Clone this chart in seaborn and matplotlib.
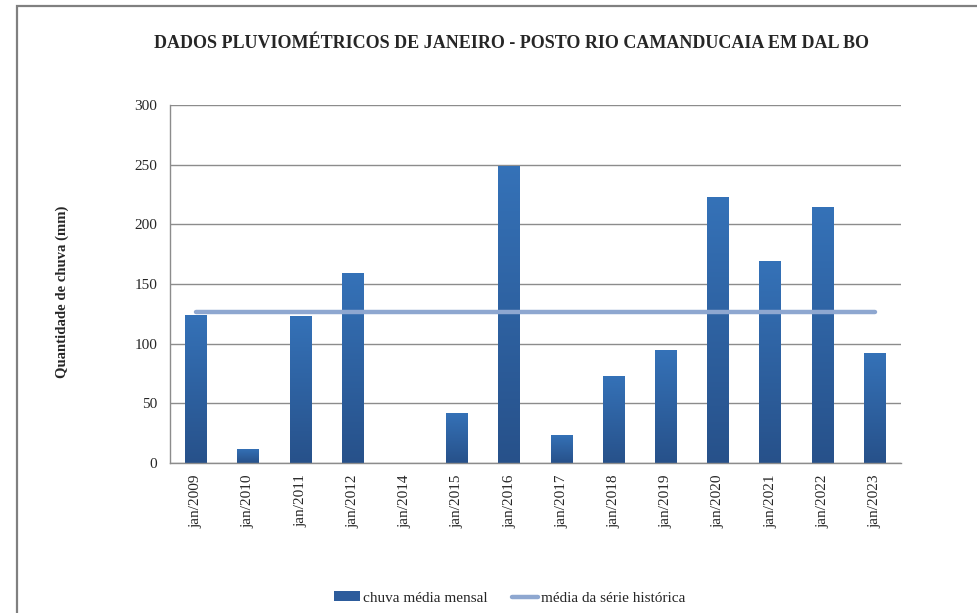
import numpy as np
import pandas as pd
import matplotlib
matplotlib.use("Agg")
import matplotlib.pyplot as plt
import seaborn as sns
from matplotlib.patches import Rectangle
from matplotlib.lines import Line2D
from matplotlib.colors import LinearSegmentedColormap

categories = ["jan/2009", "jan/2010", "jan/2011", "jan/2012", "jan/2014", "jan/2015",
              "jan/2016", "jan/2017", "jan/2018", "jan/2019", "jan/2020", "jan/2021",
              "jan/2022", "jan/2023"]
chuva = [124.2, 12.0, 123.4, 159.4, 0.0, 41.9, 249.0, 23.7, 73.1, 94.9, 223.0, 169.4, 214.6, 92.4]
media_serie = 126.7
yticks = [0, 50, 100, 150, 200, 250, 300]

sns.set_theme(style="white")
plt.rcParams['font.family'] = ['Liberation Serif', 'DejaVu Serif']

df = pd.DataFrame({"mes": categories, "chuva": chuva})

fig = plt.figure(figsize=(9.78, 6.13), dpi=100)
W, H = 978, 613
ax = fig.add_axes([170 / W, 1 - 463 / H, (901 - 170) / W, (463 - 105) / H])

sns.barplot(data=df, x="mes", y="chuva", ax=ax, color="#2F62A3", width=0.42,
            saturation=1, edgecolor="none", zorder=2)

# gradient fill on bars
grad = np.linspace(0, 1, 256).reshape(-1, 1)
cmap = LinearSegmentedColormap.from_list("g", ["#27518A", "#3572B8"])
for p in ax.patches:
    x0, y0 = p.get_x(), p.get_y()
    w, h = p.get_width(), p.get_height()
    if h <= 0:
        continue
    im = ax.imshow(grad, extent=(x0, x0 + w, y0, y0 + h), origin="lower", cmap=cmap,
                   aspect="auto", zorder=2.1)
    im.set_clip_path(p)

ax.set_xlim(-0.5, len(categories) - 0.5)
ax.set_ylim(0, 300)
ax.set_aspect("auto")

# mean line from first to last category
ax.plot([categories[0], categories[-1]], [media_serie, media_serie], color="#8EA7D0",
        lw=3.2, solid_capstyle="round", zorder=3)

ax.set_yticks(yticks)
ax.set_yticklabels([str(v) for v in yticks], fontsize=11)
ax.yaxis.grid(True, color="#8C8C8C", lw=1.0, zorder=0)
ax.set_axisbelow(True)
ax.tick_params(axis="x", rotation=90, labelsize=11, length=0, pad=8)
ax.tick_params(axis="y", length=0, pad=9)
for lab in ax.get_xticklabels():
    lab.set_va("top")
for s in ["top", "right"]:
    ax.spines[s].set_visible(False)
for s in ["left", "bottom"]:
    ax.spines[s].set_color("#8C8C8C")
    ax.spines[s].set_linewidth(1.0)
ax.set_xlabel("")
ax.set_ylabel("")

fig.text(512 / W, 1 - 43 / H, "DADOS PLUVIOMÉTRICOS DE JANEIRO - POSTO RIO CAMANDUCAIA EM DAL BO",
         ha="center", va="center", fontsize=13, fontweight="bold")
fig.text(62 / W, 1 - 292 / H, "Quantidade de chuva (mm)", rotation=90, ha="center",
         va="center", fontsize=10.6, fontweight="bold")

# legend
handles = [Rectangle((0, 0), 1, 1, facecolor="#2D5C9C", edgecolor="none"),
           Line2D([0], [0], color="#8EA7D0", lw=3.2, solid_capstyle="round")]
fig.legend(handles, ["chuva média mensal", "média da série histórica"],
           loc="center", bbox_to_anchor=(510 / W, 1 - 598 / H), ncol=2, frameon=False,
           fontsize=11, handlelength=1.7, handletextpad=0.2, columnspacing=1.6,
           handleheight=0.6)

# outer chart frame
frame = Rectangle((17 / W, -0.1), 1.2, 1 - 6 / H + 0.1, transform=fig.transFigure,
                  fill=False, edgecolor="#808080", lw=1.6, clip_on=False)
fig.patches.append(frame)

fig.savefig("out.png", dpi=100)
